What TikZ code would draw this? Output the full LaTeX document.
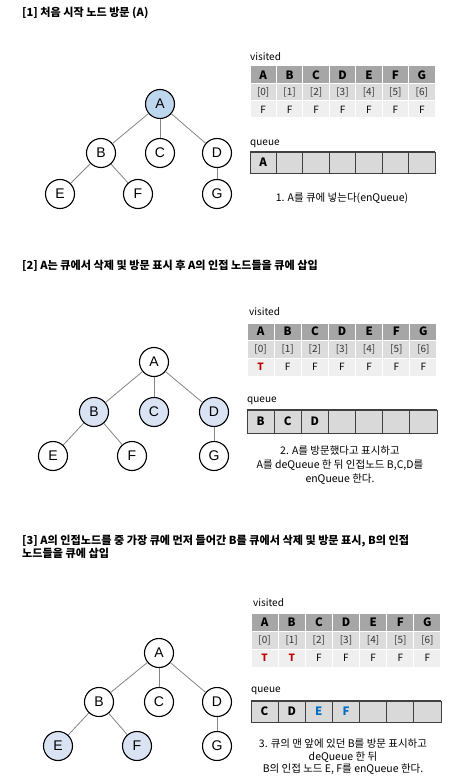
\documentclass[tikz,border=0pt]{standalone}
\usepackage{fontspec}
\setmainfont{Noto Sans CJK KR}
\newfontfamily\arialish{Liberation Sans}
\definecolor{hdrgray}{HTML}{A6A6A6}
\definecolor{rowgray}{HTML}{DCDCDC}
\definecolor{rowlight}{HTML}{EFEFEF}
\definecolor{qgray}{HTML}{D9D9D9}
\definecolor{qline}{HTML}{404040}
\definecolor{edgegray}{HTML}{858585}
\definecolor{vblue}{HTML}{BDD7EE}
\definecolor{lblue}{HTML}{DAE3F3}
\definecolor{tred}{HTML}{C00000}
\definecolor{qblue}{HTML}{0070C0}
\newcommand\rT{\textcolor{tred}{\bfseries T}}
\newcommand\bE{\textcolor{qblue}{E}}
\newcommand\bF{\textcolor{qblue}{F}}
\tikzset{
  x=1pt, y=1pt,
  vtx/.style={circle, draw=black, line width=1.1pt, fill=white, minimum size=29pt, inner sep=0pt, font=\arialish\fontsize{14}{14}\selectfont},
  seen/.style={fill=vblue},
  lseen/.style={fill=lblue},
  edge/.style={draw=edgegray, line width=0.8pt},
  titletext/.style={anchor=west, inner sep=0pt, align=left, font=\bfseries\fontsize{11.1}{13}\selectfont},
  lbl/.style={anchor=west, inner sep=0pt, font=\fontsize{10}{10}\selectfont},
  captext/.style={align=center, inner sep=0pt, font=\fontsize{10.5}{14}\selectfont},
  hcell/.style={draw=white, line width=1pt, fill=hdrgray, inner sep=0pt, font=\bfseries\fontsize{11.5}{11}\selectfont},
  icell/.style={draw=white, line width=1pt, fill=rowgray, inner sep=0pt, text=black!80, font=\fontsize{10}{10}\selectfont},
  vcell/.style={draw=white, line width=1pt, fill=rowlight, inner sep=0pt, font=\fontsize{10}{10}\selectfont},
  qcell/.style={draw=qline, line width=0.9pt, fill=qgray, inner sep=0pt, font=\bfseries\fontsize{11.5}{11}\selectfont},
}
% #1 prefix, #2 x0, #3 top, #4 cell width, #5 h1, #6 h2, #7 h3, #8 row3 list
\newcommand\vtable[8]{%
  \foreach \L [count=\i from 0] in {A,B,C,D,E,F,G}{
    \node[hcell, minimum width=#4pt, minimum height=#5pt] (#1h\i) at ({#2+(\i+0.5)*#4}, {-#3-#5/2}) {\L};
    \node[icell, minimum width=#4pt, minimum height=#6pt] (#1i\i) at ({#2+(\i+0.5)*#4}, {-#3-#5-#6/2}) {[\i]};
  }
  \foreach \V [count=\i from 0] in {#8}{
    \node[vcell, minimum width=#4pt, minimum height=#7pt] (#1v\i) at ({#2+(\i+0.5)*#4}, {-#3-#5-#6-#7/2}) {\V};
  }
}
% #1 prefix, #2 x0, #3 top, #4 cell width, #5 height, #6 list
\newcommand\qbox[6]{%
  \foreach \V [count=\i from 0] in {#6}{
    \node[qcell, minimum width=#4pt, minimum height=#5pt] (#1q\i) at ({#2+(\i+0.5)*#4}, {-#3-#5/2}) {\V};
  }
  \draw[qline, line width=1.6pt] (#1q0.north west) -- (#1q6.north east);
  \draw[qline, line width=1.6pt] (#1q0.south west) -- (#1q6.south east);
}
\begin{document}
\begin{tikzpicture}
\useasboundingbox[fill=white] (0,0) rectangle (456,-783);

% ---------- Panel 1 ----------
\node[titletext] (t1) at (22,-13) {[1] 처음 시작 노드 방문 (A)};
\node[vtx, seen] (a1) at (160,-104) {A};
\node[vtx] (b1) at (101,-153) {B};
\node[vtx] (c1) at (160,-153) {C};
\node[vtx] (d1) at (217,-153) {D};
\node[vtx] (e1) at (60,-194) {E};
\node[vtx] (f1) at (138,-194) {F};
\node[vtx] (g1) at (217,-194) {G};
\draw[edge] (a1) -- (b1); \draw[edge] (a1) -- (c1); \draw[edge] (a1) -- (d1);
\draw[edge] (b1) -- (e1); \draw[edge] (b1) -- (f1); \draw[edge] (d1) -- (g1);
\node[lbl] (vl1) at (250,-57) {visited};
\vtable{p1}{250}{66}{26.43}{18}{17}{17}{F,F,F,F,F,F,F}
\node[lbl] (ql1) at (250,-144) {queue};
\qbox{p1}{250}{152}{26.43}{21}{A,,,,,,}
\node[captext] (cap1) at (342,-198) {1. A를 큐에 넣는다(enQueue)};

% ---------- Panel 2 ----------
\node[titletext] (t2) at (22,-266) {[2] A는 큐에서 삭제 및 방문 표시 후 A의 인접 노드들을 큐에 삽입};
\node[vtx] (a2) at (154,-362) {A};
\node[vtx, lseen] (b2) at (94,-412) {B};
\node[vtx, lseen] (c2) at (154,-412) {C};
\node[vtx, lseen] (d2) at (214,-412) {D};
\node[vtx] (e2) at (53,-456) {E};
\node[vtx] (f2) at (132,-456) {F};
\node[vtx] (g2) at (214,-456) {G};
\draw[edge] (a2) -- (b2); \draw[edge] (a2) -- (c2); \draw[edge] (a2) -- (d2);
\draw[edge] (b2) -- (e2); \draw[edge] (b2) -- (f2); \draw[edge] (d2) -- (g2);
\node[lbl] (vl2) at (249,-312) {visited};
\vtable{p2}{247}{323}{27.14}{17}{18}{18}{\rT,F,F,F,F,F,F}
\node[lbl] (ql2) at (247,-401) {queue};
\qbox{p2}{247}{410}{27.14}{23}{B,C,D,,,,}
\node[captext, anchor=north] (cap2) at (340,-446) {2. A를 방문했다고 표시하고\\A를 deQueue 한 뒤 인접노드 B,C,D를\\enQueue 한다.};

% ---------- Panel 3 ----------
\node[titletext, anchor=north west] (t3) at (22,-535) {[3] A의 인접노드를 중 가장 큐에 먼저 들어간 B를 큐에서 삭제 및 방문 표시, B의 인접\\노드들을 큐에 삽입};
\node[vtx] (a3) at (159,-653) {A};
\node[vtx] (b3) at (99,-702) {B};
\node[vtx] (c3) at (159,-702) {C};
\node[vtx] (d3) at (217,-702) {D};
\node[vtx, lseen] (e3) at (58,-746) {E};
\node[vtx, lseen] (f3) at (137,-746) {F};
\node[vtx] (g3) at (217,-746) {G};
\draw[edge] (a3) -- (b3); \draw[edge] (a3) -- (c3); \draw[edge] (a3) -- (d3);
\draw[edge] (b3) -- (e3); \draw[edge] (b3) -- (f3); \draw[edge] (d3) -- (g3);
\node[lbl] (vl3) at (253,-603) {visited};
\vtable{p3}{251}{613}{27.14}{18}{18}{18}{\rT,\rT,F,F,F,F,F}
\node[lbl] (ql3) at (251,-691) {queue};
\qbox{p3}{251}{701}{27.14}{21}{C,D,\bE,\bF,,,}
\node[captext, anchor=north, font=\fontsize{10.5}{12.5}\selectfont] (cap3) at (343,-739) {3. 큐의 맨 앞에 있던 B를 방문 표시하고\\deQueue 한 뒤\\B의 인접 노드 E, F를 enQueue 한다.};
\end{tikzpicture}
\end{document}
